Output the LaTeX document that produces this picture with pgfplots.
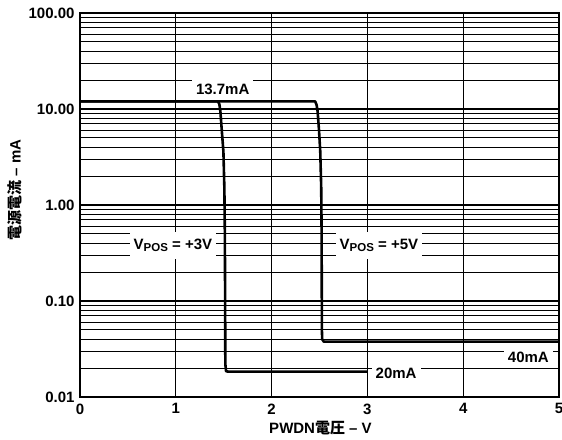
\documentclass[border=0pt]{standalone}
\usepackage{fontspec}
\setmainfont{Liberation Sans}
\newfontfamily\cjk{Noto Sans CJK JP}
\usepackage{pgfplots}
\pgfplotsset{compat=1.18}
\newcommand\lblfont{\bfseries\fontsize{15}{17}\selectfont}
\newcommand\sub[1]{\raisebox{-0.35ex}{\fontsize{11.5}{12}\selectfont #1}}
\tikzset{lbl/.style={fill=white, inner xsep=4pt, inner ysep=5pt}}

\begin{document}
\begin{tikzpicture}[font=\lblfont]
\begin{axis}[
  name=main,
  scale only axis, width=479pt, height=384pt,
  xmin=0, xmax=5, ymin=0.01, ymax=100, ymode=log,
  xtick={0,1,2,3,4,5}, xticklabels={0,1,2,3,4,5},
  ytick={0.01,0.1,1,10,100},
  yticklabels={0.01,0.10,1.00,10.00,100.00},
  minor ytick={0.02,0.03,0.04,0.05,0.06,0.07,0.08,0.09,
               0.2,0.3,0.4,0.5,0.6,0.7,0.8,0.9,
               2,3,4,5,6,7,8,9,20,30,40,50,60,70,80,90},
  grid=both,
  major grid style={black, line width=1.3pt},
  minor grid style={black, line width=0.9pt},
  major tick length=0pt, minor tick length=0pt,
  axis line style={line width=1.8pt},
  xticklabel style={font=\lblfont, yshift=-3pt},
  yticklabel style={font=\lblfont, xshift=-2pt},
  clip=false,
]
% annotation boxes (drawn before the curves)
\node[lbl] at (axis cs:1.49,16) {13.7mA};
\node[lbl, inner ysep=7pt] at (axis cs:0.97,0.38) {V\sub{POS} = +3V};
\node[lbl, inner ysep=7pt] at (axis cs:3.12,0.38) {V\sub{POS} = +5V};
\node[lbl] at (axis cs:3.30,0.0178) {20mA};
\node[lbl] at (axis cs:4.68,0.026) {40mA};

% V_POS = +3V
\addplot[black, line width=2.6pt, line join=round] coordinates {
  (0,12) (1.44,12) (1.455,11.2) (1.465,9.5) (1.48,6) (1.497,3.6)
  (1.507,1.5) (1.512,0.5) (1.515,0.1) (1.517,0.022) (1.525,0.0185)
  (1.55,0.0184) (3,0.0184)
};
% V_POS = +5V
\addplot[black, line width=2.6pt, line join=round] coordinates {
  (0,12) (2.455,12) (2.47,11) (2.48,9.5) (2.495,6) (2.508,3.6)
  (2.518,1.5) (2.522,0.5) (2.525,0.05) (2.528,0.04) (2.545,0.0377)
  (5,0.0377)
};
\end{axis}
% axis titles
\node[rotate=90] at ([xshift=-65pt, yshift=15pt]main.west) {{\cjk\bfseries 電源電流} – mA};
\node at ([xshift=1pt, yshift=-31pt]main.south) {PWDN{\cjk\bfseries 電圧} – V};
\pgfresetboundingbox
\useasboundingbox ([shift={(-80pt,-42pt)}]main.south west) rectangle ([shift={(3pt,13pt)}]main.north east);
\end{tikzpicture}
\end{document}
